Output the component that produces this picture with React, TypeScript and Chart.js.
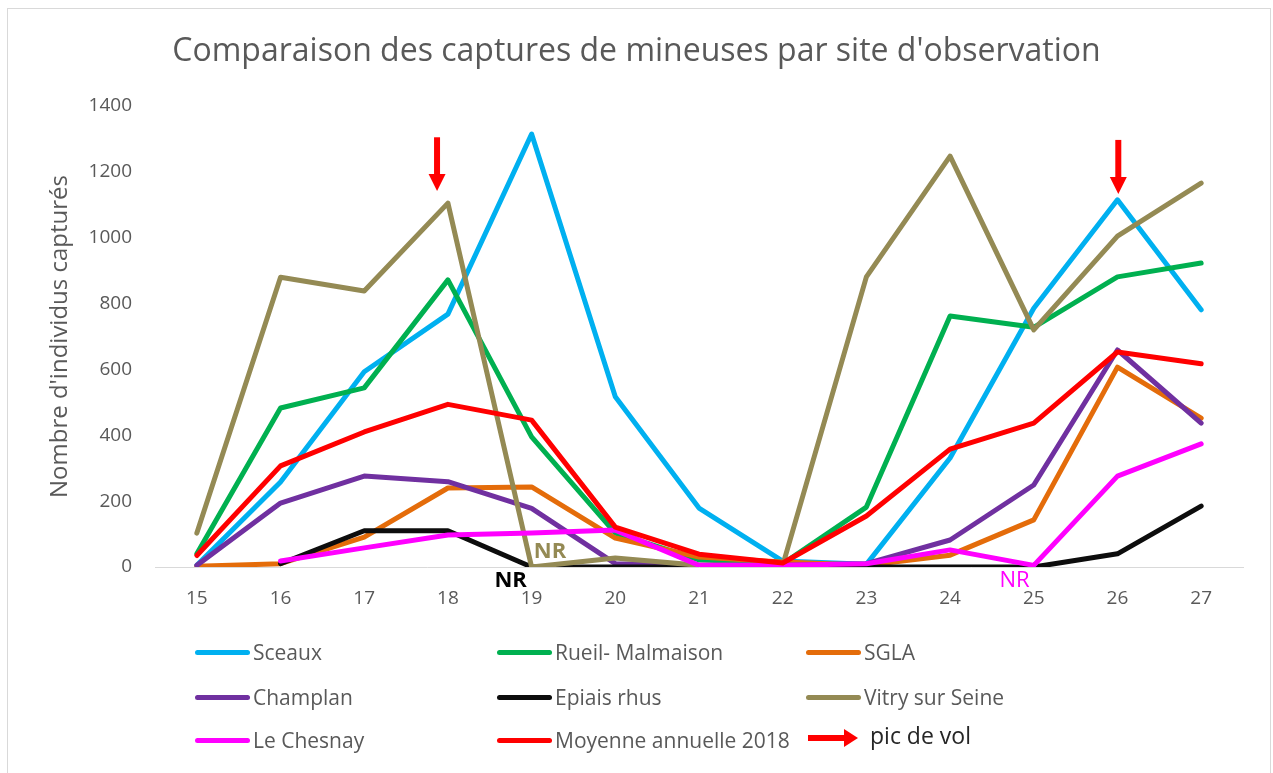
import React, { useEffect, useRef } from "react";
import { Chart, registerables } from "chart.js";

Chart.register(...registerables);

const weeks = ["15", "16", "17", "18", "19", "20", "21", "22", "23", "24", "25", "26", "27"];

const sceaux = [5, 258, 593, 768, 1315, 517, 179, 18, 8, 331, 786, 1115, 781];
const rueil = [40, 483, 544, 872, 395, 103, 22, 10, 182, 762, 728, 881, 923];
const sgla = [2, 10, 91, 240, 243, 88, 30, 15, 5, 36, 143, 607, 452];
const champlan = [5, 194, 276, 259, 178, 10, 5, 5, 10, 82, 249, 659, 437];
const epiais = [null, 10, 110, 110, 0, 0, 0, 0, 0, 0, 0, 40, 185];
const vitry = [103, 880, 838, 1105, 0, 27, 5, 5, 881, 1248, 720, 1005, 1166];
const chesnay = [null, 18, 58, 97, 103, 112, 5, 5, 10, 52, 5, 276, 374];
const moyenne = [35, 307, 410, 494, 446, 121, 39, 12, 155, 358, 437, 653, 617];

const seriesNames = [
  "Sceaux",
  "Rueil- Malmaison",
  "SGLA",
  "Champlan",
  "Epiais rhus",
  "Vitry sur Seine",
  "Le Chesnay",
  "Moyenne annuelle 2018",
];
const seriesColors = ["#00B0F0", "#00B050", "#E46C0A", "#7030A0", "#0D0D0D", "#948A54", "#FF00FF", "#FF0000"];
const seriesData = [sceaux, rueil, sgla, champlan, epiais, vitry, chesnay, moyenne];

const yTicks = [0, 200, 400, 600, 800, 1000, 1200, 1400];

// "pic de vol" arrows: week, horizontal shift (in categories), top and tip values
const peakArrows = [
  { week: "18", shift: -0.13, top: 1305, tip: 1142 },
  { week: "26", shift: 0.01, top: 1297, tip: 1133 },
];

// "NR" (non relevé) labels
const nrLabels = [
  { week: "19", shift: -0.25, value: -42, color: "#000000", bold: true },
  { week: "19", shift: 0.22, value: 45, color: "#948A54", bold: true },
  { week: "25", shift: -0.23, value: -41, color: "#FF00FF", bold: false },
];

const FONT = "'Open Sans', sans-serif";
const GREY = "#595959";

const annotationPlugin = {
  id: "annotations",
  afterDatasetsDraw(chart: any) {
    const ctx = chart.ctx;
    const xs = chart.scales.x;
    const ys = chart.scales.y;
    ctx.save();
    for (const a of peakArrows) {
      const idx = weeks.indexOf(a.week) + a.shift;
      const x = xs.getPixelForValue(idx);
      const yTop = ys.getPixelForValue(a.top);
      const yTip = ys.getPixelForValue(a.tip);
      const headH = 17;
      const headW = 17;
      ctx.fillStyle = "#FF0000";
      ctx.fillRect(x - 3, yTop, 6, yTip - yTop - headH + 1);
      ctx.beginPath();
      ctx.moveTo(x - headW / 2, yTip - headH);
      ctx.lineTo(x + headW / 2, yTip - headH);
      ctx.lineTo(x, yTip);
      ctx.closePath();
      ctx.fill();
    }
    ctx.textAlign = "center";
    ctx.textBaseline = "middle";
    for (const n of nrLabels) {
      const idx = weeks.indexOf(n.week) + n.shift;
      const x = xs.getPixelForValue(idx);
      const y = ys.getPixelForValue(n.value);
      ctx.font = `${n.bold ? "bold " : ""}22px ${FONT}`;
      ctx.fillStyle = n.color;
      ctx.fillText("NR", x, y);
    }
    ctx.restore();
  },
};

const legendCols = [195, 497, 806];
const legendRows = [652, 697, 740];

export default function App() {
  const ref = useRef<HTMLCanvasElement>(null);

  useEffect(() => {
    if (!ref.current) return;
    const chart = new Chart(ref.current, {
      type: "line",
      data: {
        labels: weeks,
        datasets: seriesData.map((d, i) => ({
          label: seriesNames[i],
          data: d,
          borderColor: seriesColors[i],
          backgroundColor: seriesColors[i],
          borderWidth: 5,
          pointRadius: 0,
          pointHoverRadius: 0,
          borderCapStyle: "round" as const,
          borderJoinStyle: "round" as const,
          tension: 0,
          fill: false,
          order: seriesData.length - i,
        })),
      },
      options: {
        responsive: false,
        animation: false,
        layout: { padding: { left: 30, right: 30, top: 0, bottom: 146 } },
        plugins: {
          legend: { display: false },
          tooltip: { enabled: false },
          title: {
            display: true,
            text: "Comparaison des captures de mineuses par site d'observation",
            color: GREY,
            font: { family: FONT, size: 32, weight: "normal" },
            padding: { top: 33, bottom: 34.6 },
          },
        },
        scales: {
          x: {
            offset: true,
            grid: { display: false, drawTicks: false },
            border: { display: true, color: "#D9D9D9", width: 1 },
            ticks: { color: GREY, font: { family: FONT, size: 19 }, padding: 20 },
            afterFit: (s: any) => {
              s.height = 60;
            },
          },
          y: {
            min: 0,
            max: 1400,
            afterBuildTicks: (s: any) => {
              s.ticks = yTicks.map((v) => ({ value: v }));
            },
            grid: { display: false, drawTicks: false },
            border: { display: false },
            ticks: {
              color: GREY,
              font: { family: FONT, size: 19 },
              padding: 23,
              callback: (v: any) => String(v),
            },
            title: {
              display: true,
              text: "Nombre d'individus capturés",
              color: GREY,
              font: { family: FONT, size: 24 },
              padding: { top: 16, bottom: 0 },
            },
            afterFit: (s: any) => {
              s.width = 125;
            },
          },
        },
      },
      plugins: [annotationPlugin],
    });
    return () => chart.destroy();
  }, []);

  return (
    <div style={{ position: "fixed", left: 0, top: 0, width: 1273, height: 773, background: "#fff", overflow: "hidden" }}>
      <div
        style={{
          position: "absolute",
          left: 7,
          top: 8,
          width: 1264,
          height: 770,
          border: "1px solid #D9D9D9",
          boxSizing: "border-box",
        }}
      />
      <canvas ref={ref} width={1273} height={773} style={{ position: "absolute", left: 0, top: 0 }} />
      {seriesNames.map((name, i) => {
        const col = legendCols[i % 3];
        const row = legendRows[Math.floor(i / 3)];
        return (
          <div key={name}>
            <div
              style={{
                position: "absolute",
                left: col,
                top: row - 2.5,
                width: 55,
                height: 5,
                borderRadius: 3,
                background: seriesColors[i],
              }}
            />
            <div
              style={{
                position: "absolute",
                left: col + 58,
                top: row - 15,
                lineHeight: "30px",
                fontFamily: FONT,
                fontSize: 21,
                color: GREY,
                whiteSpace: "nowrap",
              }}
            >
              {name}
            </div>
          </div>
        );
      })}
      <svg style={{ position: "absolute", left: 806, top: 726 }} width={56} height={24}>
        <rect x={2} y={9} width={38} height={6} fill="#FF0000" />
        <polygon points="38,3 52,12 38,21" fill="#FF0000" />
      </svg>
      <div
        style={{
          position: "absolute",
          left: 870,
          top: 720,
          lineHeight: "30px",
          fontFamily: FONT,
          fontSize: 23,
          color: "#262626",
          whiteSpace: "nowrap",
        }}
      >
        pic de vol
      </div>
    </div>
  );
}
